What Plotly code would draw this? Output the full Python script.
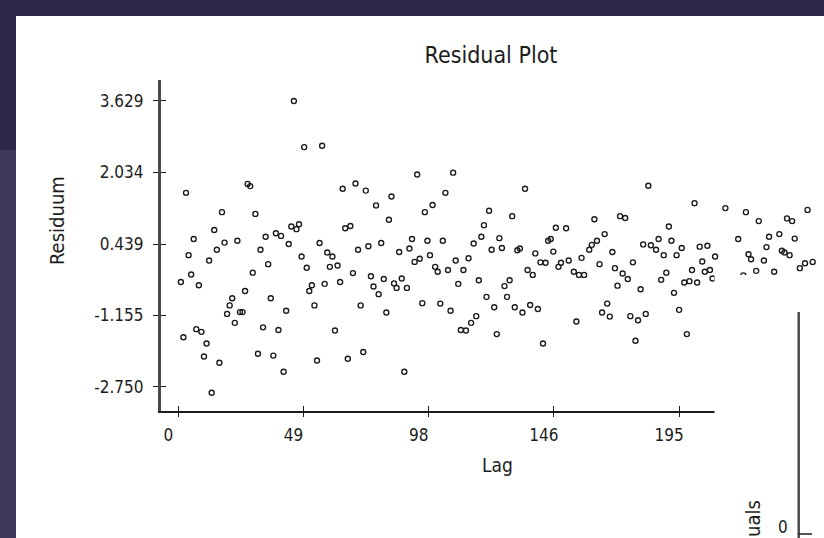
import plotly.graph_objects as go

# Residual series against lag
LAGS = [
    1, 2, 3, 4, 5, 6, 7, 8, 9, 10, 11, 12, 13, 14, 15, 16, 17, 18, 19, 20,
    21, 22, 23, 24, 25, 26, 27, 28, 29, 30, 31, 32, 33, 34, 35, 36, 37, 38, 39, 40,
    41, 42, 43, 44, 45, 46, 47, 48, 49, 50, 51, 52, 53, 54, 55, 56, 57, 58, 59, 60,
    61, 62, 63, 64, 65, 66, 67, 68, 69, 70, 71, 72, 73, 74, 75, 76, 77, 78, 79, 80,
    81, 82, 83, 84, 85, 86, 87, 88, 89, 90, 91, 92, 93, 94, 95, 96, 97, 98, 99, 100,
    101, 102, 103, 104, 105, 106, 107, 108, 109, 110, 111, 112, 113, 114, 115, 116, 117, 118, 119, 120,
    121, 122, 123, 124, 125, 126, 127, 128, 129, 130, 131, 132, 133, 134, 135, 136, 137, 138, 139, 140,
    141, 142, 143, 144, 145, 146, 147, 148, 149, 151, 152, 154, 155, 156, 157, 158, 160,
    161, 162, 163, 164, 165, 166, 167, 168, 169, 170, 171, 172, 173, 174, 175, 176, 177, 178, 179, 180,
    181, 182, 183, 184, 186, 187, 188, 189, 190, 191, 192, 193, 194, 195, 196, 197, 198, 199, 200,
    201, 202, 203, 204, 205, 206, 207, 208, 209, 213, 218, 220, 221, 222, 223, 225, 226, 228, 229, 230,
    232, 234, 235, 236, 237, 238, 239, 240, 242, 244, 245, 247,
]
RESIDUALS = [
    -0.41, -1.64, 1.58, 0.19, -0.24, 0.55, -1.46, -0.48, -1.52, -2.07,
    -1.78, 0.07, -2.88, 0.75, 0.31, -2.21, 1.15, 0.47, -1.12, -0.93,
    -0.77, -1.32, 0.51, -1.08, -1.08, -0.61, 1.78, 1.73, -0.20, 1.11,
    -2.01, 0.31, -1.42, 0.60, -0.01, -0.77, -2.05, 0.68, -1.48, 0.62,
    -2.41, -1.05, 0.44, 0.83, 3.629, 0.77, 0.88, 0.16, 2.60, -0.09,
    -0.61, -0.48, -0.93, -2.16, 0.46, 2.63, -0.45, 0.25, -0.07, 0.16,
    -1.49, -0.04, -0.41, 1.67, 0.79, -2.12, 0.84, -0.21, 1.79, 0.31,
    -0.93, -1.97, 1.63, 0.39, -0.28, -0.51, 1.30, -0.68, 0.46, -0.34,
    -1.09, 0.98, 1.50, -0.44, -0.54, 0.26, -0.33, -2.41, -0.54, 0.34,
    0.55, 0.04, 1.99, 0.11, -0.88, 1.15, 0.51, 0.19, 1.31, -0.07,
    -0.18, -0.89, 0.51, 1.58, -0.14, -1.05, 2.03, 0.07, -0.45, -1.48,
    -0.14, -1.49, 0.12, -1.32, 0.45, -1.17, -0.37, 0.60, 0.86, -0.74,
    1.18, 0.31, -0.97, -1.57, 0.57, 0.35, -0.50, -0.74, -0.37, 1.06,
    -0.97, 0.30, 0.34, -1.09, 1.67, -0.14, -0.92, -0.25, 0.23, -1.01,
    0.03, -1.78, 0.02, 0.51, 0.55, 0.27, 0.80, -0.07, 0.02, 0.79,
    0.07, -0.18, -1.29, -0.25, 0.13, -0.25, 0.31,
    0.42, 0.99, 0.51, -0.01, -1.09, 0.66, -0.89, -1.18, 0.26, -0.10,
    -0.49, 1.06, -0.22, 1.02, -0.34, -1.17, 0.03, -1.72, -1.26, -0.57,
    0.43, -1.12, 1.74, 0.41, 0.31, 0.55, -0.36, 0.19, -0.20, 0.83,
    0.51, -0.65, 0.19, -1.03, 0.35, -0.42, -1.57, -0.39, -0.14,
    1.35, -0.42, 0.38, 0.05, -0.18, 0.40, -0.14, -0.33, 0.16, 1.24,
    0.55, -0.26, 1.15, 0.21, 0.10, -0.16, 0.95, 0.07, 0.37, 0.60,
    -0.18, 0.66, 0.29, 0.25, 1.01, 0.19, 0.95, 0.56, -0.10, 0.01,
    1.20, 0.04,
]

X_TICKS = [0, 48.75, 97.5, 146.25, 195]
X_TICK_TEXT = ["0", "49", "98", "146", "195"]
Y_TICKS = [-2.750, -1.155, 0.439, 2.034, 3.629]
Y_TICK_TEXT = ["-2.750", "-1.155", "0.439", "2.034", "3.629"]

W, H = 824, 538
FONT = "DejaVu Sans Condensed, Liberation Sans, sans-serif"
INK = "#1c1c1c"


def px(x):
    return x / W


def py(y):
    return 1 - y / H


x_range = [-6.85, 251.4]
y_range = [-3.279, 4.097]

fig = go.Figure()
fig.add_trace(go.Scatter(
    x=LAGS, y=RESIDUALS, mode="markers",
    marker=dict(symbol="circle-open", size=5, color=INK, line=dict(width=1.4)),
    hoverinfo="x+y", showlegend=False,
))
# helper trace that brings up the overlaid axes carrying the inner tick halves
fig.add_trace(go.Scatter(x=[], y=[], xaxis="x2", yaxis="y2", showlegend=False))

axis_common = dict(showgrid=False, zeroline=False, ticklen=5, tickwidth=1,
                   tickcolor=INK, tickfont=dict(family=FONT, size=17, color=INK))

fig.update_layout(
    width=W, height=H, autosize=False,
    margin=dict(l=0, r=0, t=0, b=0),
    paper_bgcolor="#2b2947",
    plot_bgcolor="rgba(0,0,0,0)",
    title=dict(text="Residual Plot", x=px(491), y=py(55), xanchor="center",
               yanchor="middle", xref="paper", yref="paper",
               font=dict(family=FONT, size=23, color=INK)),
    xaxis=dict(domain=[px(160.7), 1.0], range=x_range, tickmode="array",
               tickvals=X_TICKS, ticktext=X_TICK_TEXT, ticks="outside",
               showline=True, linecolor=INK, linewidth=1.5,
               ticklabelshift=-10, ticklabelstandoff=3, **axis_common),
    yaxis=dict(domain=[py(410.7), py(80)], range=y_range, tickmode="array",
               tickvals=Y_TICKS, ticktext=Y_TICK_TEXT, ticks="outside",
               showline=True, linecolor="#4a4a4a", linewidth=2.5,
               ticklabelstandoff=6, **axis_common),
    xaxis2=dict(overlaying="x", anchor="y", side="bottom", range=x_range,
                tickmode="array", tickvals=X_TICKS, ticks="inside",
                showticklabels=False, showline=False, **axis_common),
    yaxis2=dict(overlaying="y", anchor="x", side="left", range=y_range,
                tickmode="array", tickvals=Y_TICKS, ticks="inside",
                showticklabels=False, showline=False, **axis_common),
    showlegend=False,
)

shapes = [
    # lighter left edge of the frame
    dict(type="rect", xref="paper", yref="paper", x0=0, x1=px(16), y0=0, y1=py(150),
         fillcolor="#3b3957", line=dict(width=0), layer="below"),
    # white chart window
    dict(type="rect", xref="paper", yref="paper", x0=px(16), x1=1, y0=0, y1=py(16),
         fillcolor="white", line=dict(width=0), layer="below"),
    # second window lying over the lower right corner
    dict(type="rect", xref="paper", yref="paper", x0=px(714.5), x1=1, y0=0, y1=py(275),
         fillcolor="white", line=dict(width=0), layer="above"),
    # its value axis and zero tick
    dict(type="line", xref="paper", yref="paper", x0=px(798.7), x1=px(798.7),
         y0=0, y1=py(312), line=dict(color="#4a4a4a", width=2.5), layer="above"),
    dict(type="line", xref="paper", yref="paper", x0=px(798.7), x1=px(812),
         y0=py(534), y1=py(534), line=dict(color=INK, width=1.5), layer="above"),
]
fig.update_layout(shapes=shapes)

annotations = [
    dict(text="Residuum", x=px(57), y=py(221), xref="paper", yref="paper",
         textangle=-90, showarrow=False, xanchor="center", yanchor="middle",
         font=dict(family=FONT, size=20, color=INK)),
    dict(text="Lag", x=px(497), y=py(465), xref="paper", yref="paper",
         showarrow=False, xanchor="center", yanchor="middle",
         font=dict(family=FONT, size=19, color=INK)),
    dict(text="Residuals", x=px(752), y=py(499), xref="paper", yref="paper",
         textangle=-90, showarrow=False, xanchor="center", yanchor="top",
         font=dict(family=FONT, size=20, color=INK)),
    dict(text="0", x=px(783), y=py(527), xref="paper", yref="paper",
         showarrow=False, xanchor="center", yanchor="middle",
         font=dict(family=FONT, size=17, color=INK)),
]
fig.update_layout(annotations=annotations)

fig.write_html("out.html")
